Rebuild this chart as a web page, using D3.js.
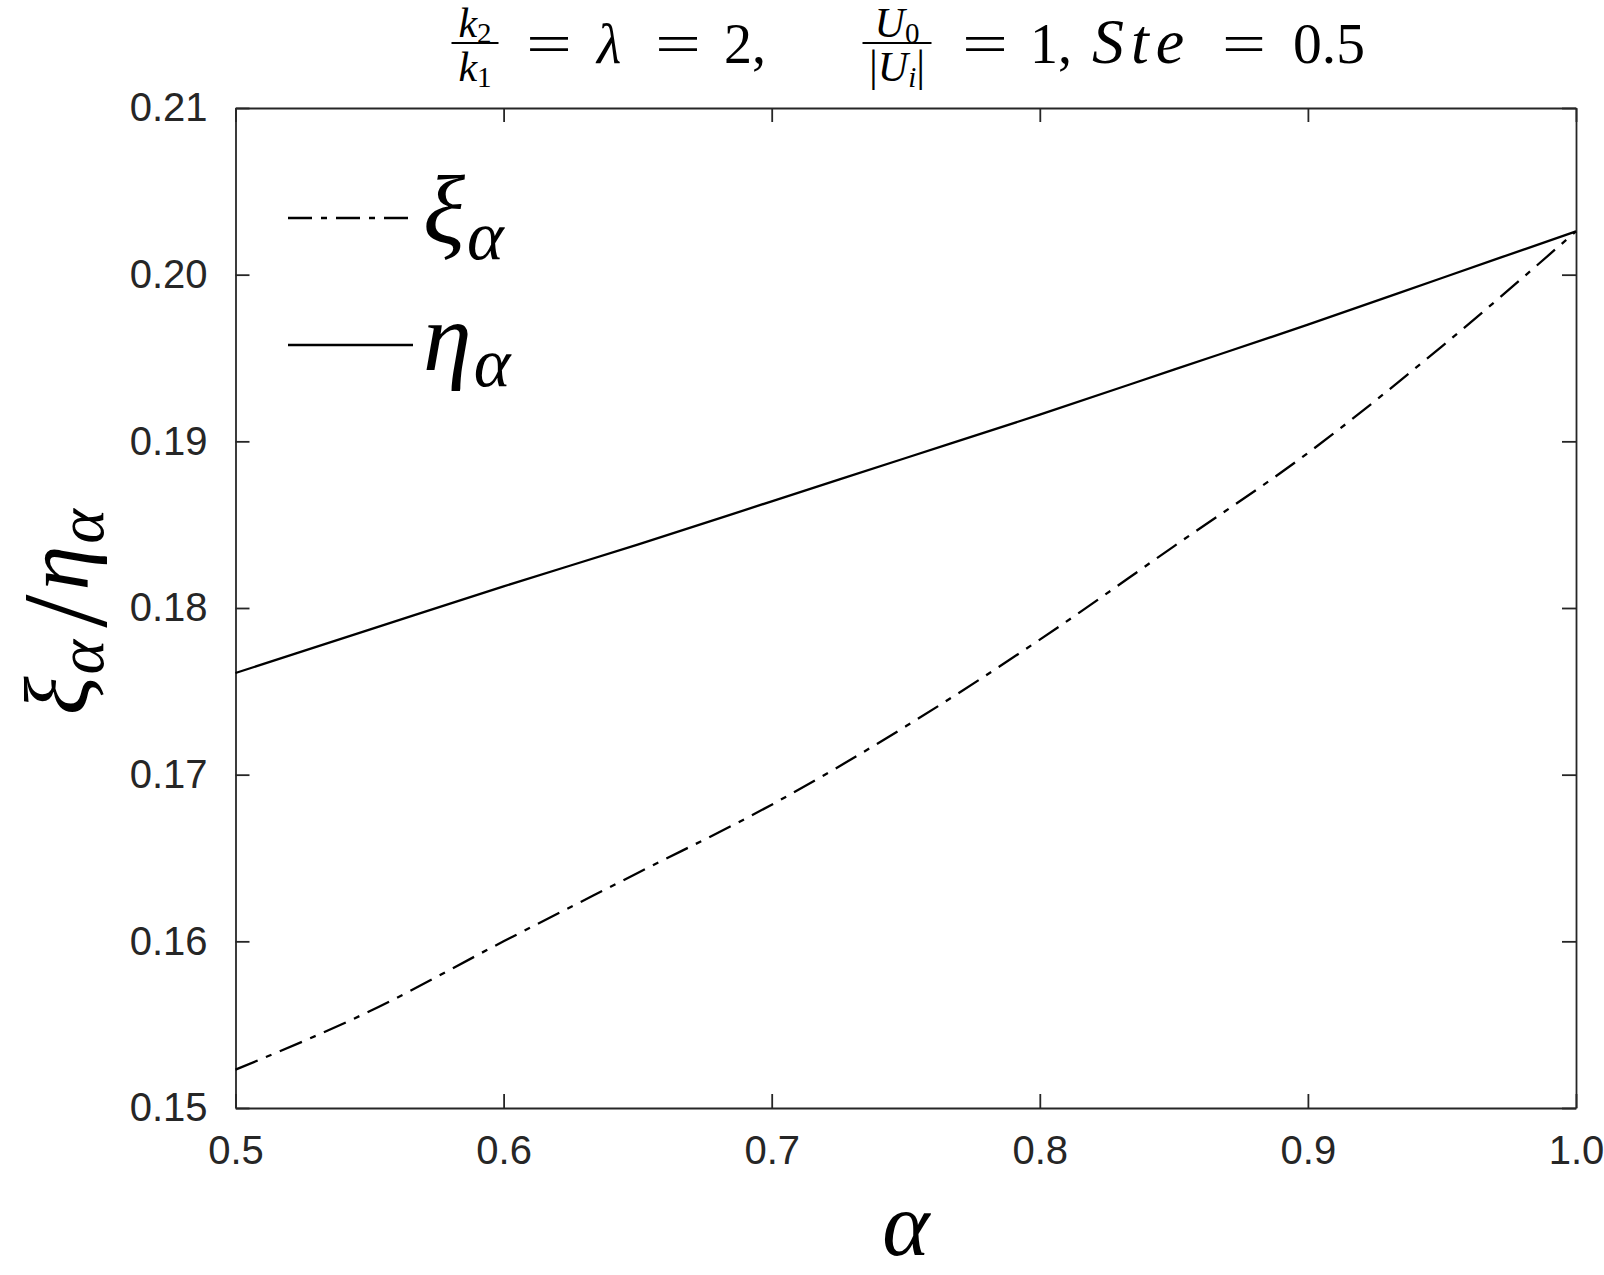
<!DOCTYPE html>
<html>
<head>
<meta charset="utf-8">
<script src="https://cdn.jsdelivr.net/npm/d3@7"></script>
<style>
  body { margin: 0; background: #fff; }
  svg { display: block; }
</style>
</head>
<body>
<div id="chart"></div>
<script>
// Data
const alphaValues = [0.5, 0.55, 0.6, 0.65, 0.7, 0.75, 0.8, 0.85, 0.9, 0.95, 1.0];
const xiValues  = [0.1523, 0.1558, 0.1600, 0.1641, 0.1682, 0.1729, 0.1781, 0.1837, 0.1893, 0.1957, 0.2026];
const etaValues = [0.1761, 0.1787, 0.1813, 0.1838, 0.1864, 0.1890, 0.1916, 0.1943, 0.1970, 0.1998, 0.2026];

const xTicks = [0.5, 0.6, 0.7, 0.8, 0.9, 1.0];
const xTickLabels = ["0.5", "0.6", "0.7", "0.8", "0.9", "1.0"];
const yTicks = [0.15, 0.16, 0.17, 0.18, 0.19, 0.20, 0.21];
const yTickLabels = ["0.15", "0.16", "0.17", "0.18", "0.19", "0.20", "0.21"];

const seriesNames = ["xi", "eta"];

// Dimensions
const W = 1604, H = 1275;
const margin = { top: 108, right: 28, bottom: 167, left: 235.5 };
const width = W - margin.left - margin.right;
const height = H - margin.top - margin.bottom;

const axisColor = "#262626";
const mathFont = "'Liberation Serif', 'Times New Roman', serif";
const tickFont = "'Liberation Sans', Arial, sans-serif";

const root = d3.select("#chart")
    .append("svg")
    .attr("width", W)
    .attr("height", H);

const svg = root.append("g")
    .attr("transform", `translate(${margin.left},${margin.top})`);

// Scales
const x = d3.scaleLinear().domain([0.5, 1.0]).range([0, width]);
const y = d3.scaleLinear().domain([0.15, 0.21]).range([height, 0]);

// Axes (ticks point inward, box on all sides)
const tickLen = 14;

function styleAxis(g) {
    g.attr("color", axisColor);
    g.selectAll("path.domain").attr("stroke-width", 1.8);
    g.selectAll(".tick line").attr("stroke-width", 1.8);
    g.selectAll("text")
        .attr("font-family", tickFont)
        .attr("font-size", 40)
        .attr("fill", axisColor);
}

svg.append("g")
    .attr("transform", `translate(0,${height})`)
    .call(d3.axisBottom(x).tickValues(xTicks)
        .tickFormat((d, i) => xTickLabels[i])
        .tickSizeInner(-tickLen).tickSizeOuter(0).tickPadding(28))
    .call(styleAxis);

svg.append("g")
    .call(d3.axisLeft(y).tickValues(yTicks)
        .tickFormat((d, i) => yTickLabels[i])
        .tickSizeInner(-tickLen).tickSizeOuter(0).tickPadding(28))
    .call(styleAxis);

svg.append("g")
    .call(d3.axisTop(x).tickValues(xTicks).tickFormat("")
        .tickSizeInner(-tickLen).tickSizeOuter(0))
    .call(styleAxis);

svg.append("g")
    .attr("transform", `translate(${width},0)`)
    .call(d3.axisRight(y).tickValues(yTicks).tickFormat("")
        .tickSizeInner(-tickLen).tickSizeOuter(0))
    .call(styleAxis);

// Lines
const lineStyles = {
    xi:  { dash: "24,9,6,9", width: 2.3 },
    eta: { dash: null, width: 2.3 }
};
const seriesData = {
    xi:  alphaValues.map((a, i) => ({ a: a, v: xiValues[i] })),
    eta: alphaValues.map((a, i) => ({ a: a, v: etaValues[i] }))
};

const line = d3.line()
    .x(d => x(d.a))
    .y(d => y(d.v))
    .curve(d3.curveMonotoneX);

seriesNames.forEach(name => {
    svg.append("path")
        .datum(seriesData[name])
        .attr("fill", "none")
        .attr("stroke", "#000")
        .attr("stroke-width", lineStyles[name].width)
        .attr("stroke-dasharray", lineStyles[name].dash)
        .attr("d", line);
});

// Rich text helper: parts = [text, italic, size, dy, dx]
function rich(textSel, parts) {
    parts.forEach(p => {
        textSel.append("tspan")
            .attr("font-style", p[1] ? "italic" : "normal")
            .attr("font-size", p[2])
            .attr("dy", p[3] || 0)
            .attr("dx", p[4] || 0)
            .text(p[0]);
    });
    return textSel;
}

// Legend
const legend = root.append("g");
const legendItems = [
    { name: "xi",  sym: "ξ", y: 218 },
    { name: "eta", sym: "η", y: 345 }
];
legendItems.forEach(item => {
    legend.append("line")
        .attr("x1", 288).attr("x2", 413)
        .attr("y1", item.y).attr("y2", item.y)
        .attr("stroke", "#000")
        .attr("stroke-width", lineStyles[item.name].width)
        .attr("stroke-dasharray", lineStyles[item.name].dash);
    const t = legend.append("text")
        .attr("x", 423)
        .attr("y", item.y + 25)
        .attr("font-family", mathFont)
        .attr("fill", "#000");
    rich(t, [[item.sym, true, 98, 0], ["α", true, 70, 16, 2]]);
});

// Axis labels
root.append("text")
    .attr("x", margin.left + width / 2)
    .attr("y", 1255)
    .attr("text-anchor", "middle")
    .attr("font-family", mathFont)
    .attr("font-style", "italic")
    .attr("font-size", 90)
    .text("α");

const ylab = root.append("text")
    .attr("transform", "translate(88,612) rotate(-90)")
    .attr("text-anchor", "middle")
    .attr("font-family", mathFont)
    .attr("fill", "#000");
rich(ylab, [["ξ", true, 90, 0], ["α", true, 66, 15, 2], ["/", false, 120, 3, 12],
            ["η", true, 90, -18, 4], ["α", true, 66, 15, 2]]);

// Title
const title = root.append("g").attr("font-family", mathFont).attr("fill", "#000");
const titleBase = 63;
// [text, italic, start x, forced width, letter spacing]
const titleParts = [
    ["=", false, 526, 46, 0], ["λ", true, 597, 0, 0], ["=", false, 655, 46, 0], ["2,", false, 724, 0, 0],
    ["=", false, 962, 46, 0], ["1,", false, 1030, 0, 0], ["Ste", true, 1092, 0, 7],
    ["=", false, 1222, 44, 0], ["0.5", false, 1293, 72, 0]
];
titleParts.forEach(p => {
    const t = title.append("text")
        .attr("x", p[2]).attr("y", titleBase)
        .attr("font-size", p[4] ? 64 : 56)
        .attr("font-style", p[1] ? "italic" : "normal")
        .attr("letter-spacing", p[4])
        .text(p[0]);
    if (p[3]) t.attr("textLength", p[3]).attr("lengthAdjust", "spacingAndGlyphs");
});

function fraction(cx, barW, numParts, denParts) {
    const barY = 43;
    title.append("line")
        .attr("x1", cx - barW / 2).attr("x2", cx + barW / 2)
        .attr("y1", barY).attr("y2", barY)
        .attr("stroke", "#000").attr("stroke-width", 2);
    rich(title.append("text").attr("x", cx).attr("y", 37).attr("text-anchor", "middle"), numParts);
    rich(title.append("text").attr("x", cx).attr("y", 81).attr("text-anchor", "middle"), denParts);
}
fraction(475, 47, [["k", true, 42, 0], ["2", false, 29, 6]], [["k", true, 42, 0], ["1", false, 29, 6]]);
fraction(897, 69, [["U", true, 42, 0], ["0", false, 29, 6]],
    [["|", false, 44, 0], ["U", true, 42, 0], ["i", true, 29, 6], ["|", false, 44, -6]]);
</script>
</body>
</html>
